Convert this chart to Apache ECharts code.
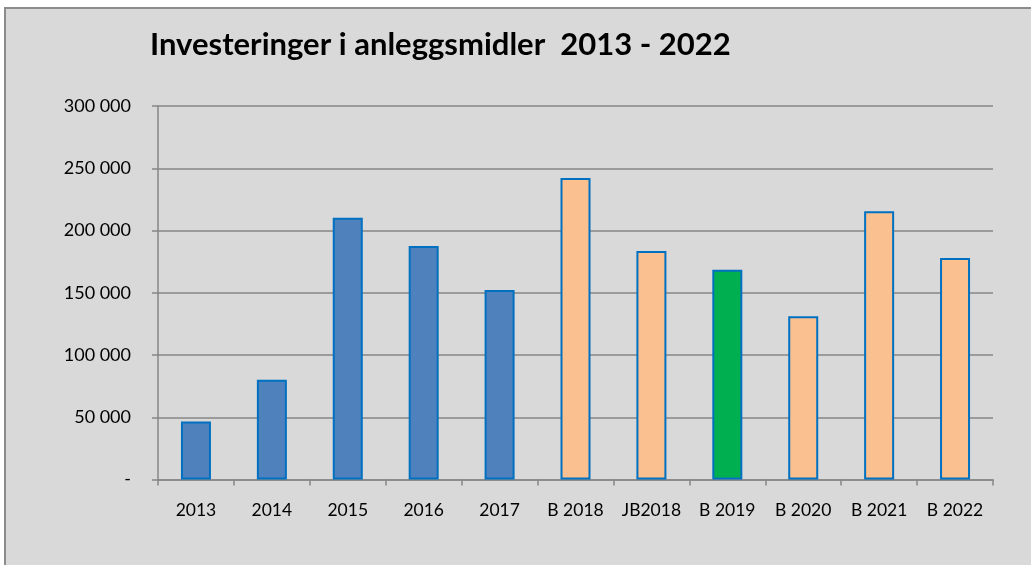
<!DOCTYPE html>
<html>
<head>
<meta charset="utf-8">
<script src="https://cdn.jsdelivr.net/npm/echarts@6/dist/echarts.min.js"></script>
<style>
  html, body { margin: 0; padding: 0; background: #fff; }
  #frame {
    position: absolute; left: 4px; top: 7px; width: 1040px; height: 570px;
    background: #d9d9d9; border-left: 2px solid #8c8c8c; border-top: 2px solid #8c8c8c;
  }
  #chart { position: absolute; left: 0; top: 0; width: 1031px; height: 565px; }
</style>
</head>
<body>
<div id="frame"></div>
<div id="chart"></div>
<script>
// kategorier og verdier (lest av bildet)
const categories = ['2013', '2014', '2015', '2016', '2017', 'B 2018', 'JB2018', 'B 2019', 'B 2020', 'B 2021', 'B 2022']
const values = [46500, 80200, 210300, 187600, 152200, 242200, 183500, 168500, 131100, 215400, 177900]
// regnskap / budsjett / vedtatt budsjett
const kinds = ['R', 'R', 'R', 'R', 'R', 'B', 'B', 'V', 'B', 'B', 'B']
const yTicks = [0, 50000, 100000, 150000, 200000, 250000, 300000]

const fills = { R: '#4f81bd', B: '#fac090', V: '#00b050' }
const font = 'Lato, "Open Sans", sans-serif'

function fmt(v) {
    if (v === 0) return '-'
    return String(v).replace(/\B(?=(\d{3})+(?!\d))/g, ' ')
}

const chart = echarts.init(document.getElementById('chart'))
chart.setOption({
    animation: false,
    title: {
        text: 'Investeringer i anleggsmidler  2013 - 2022',
        left: 145, top: 24,
        textStyle: { fontFamily: font, fontWeight: 'bold', fontSize: 31, color: '#000' }
    },
    grid: { left: 158, right: 38, top: 106, bottom: 85.5 },
    xAxis: {
        type: 'category',
        data: categories,
        axisLine: { lineStyle: { color: '#868686', width: 1.5 } },
        axisTick: { show: true, length: 6, lineStyle: { color: '#868686', width: 1.5 } },
        axisLabel: { interval: 0, margin: 22, fontFamily: font, fontSize: 17.5, color: '#000' }
    },
    yAxis: {
        type: 'value',
        min: yTicks[0],
        max: yTicks[yTicks.length - 1],
        interval: 50000,
        axisLine: { show: true, lineStyle: { color: '#868686', width: 1.5 } },
        axisTick: { show: true, length: 6, lineStyle: { color: '#868686', width: 1.5 } },
        splitLine: { lineStyle: { color: '#868686', width: 1.5 } },
        axisLabel: { margin: 27, fontFamily: font, fontSize: 18, color: '#000', formatter: fmt }
    },
    series: [{
        type: 'bar',
        barWidth: 30,
        data: values.map((v, i) => ({
            value: v,
            itemStyle: { color: fills[kinds[i]], borderColor: '#0070c0', borderWidth: 2 }
        }))
    }]
})
</script>
</body>
</html>
